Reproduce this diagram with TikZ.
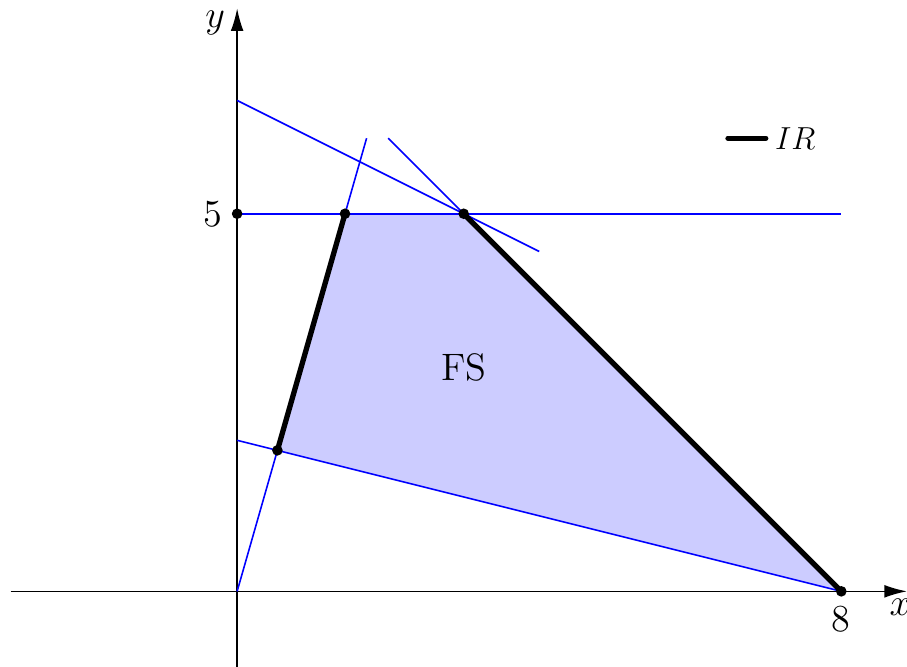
\documentclass[tikz,border=0pt]{standalone}
\definecolor{FSfill}{RGB}{204,204,255}
\usepackage{tikz}
\usetikzlibrary{arrows.meta, positioning, calc}
\usepackage{amsmath, amssymb}
\usepackage{xcolor}

\begin{document}
\begin{tikzpicture}[
    constraint/.style={draw=blue, line width=0.6pt},
    irline/.style={black, line width=2pt, line cap=round},
    vertex/.style={circle, fill=black, inner sep=0pt, minimum size=4pt},
    axis/.style={-{Latex[length=3mm, width=1.7mm]}, line width=0.6pt}]
  \useasboundingbox (-3.14,-0.99) rectangle (8.87,7.83);

  % corners of the feasible set
  \coordinate (O) at (0,0);
  \coordinate (pA) at (8/15,28/15);
  \coordinate (pB) at (10/7,5);
  \coordinate (pC) at (3,5);
  \coordinate (pD) at (8,0);
  \coordinate (p5) at (0,5);

  \fill[FSfill] (pA) -- (pB) -- (pC) -- (pD) -- cycle;

  % axes
  \draw[axis] (-3,0) -- (8.87,0);
  \draw[axis] (0,-1) -- (0,7.72);
  \node[font=\Large, inner sep=1pt] (xlab) at (8.78,-0.21) {$x$};
  \node[font=\Large, inner sep=1pt] (ylab) at (-0.29,7.52) {$y$};

  % constraint lines
  \draw[constraint] (0,2) -- (pD);
  \draw[constraint] (O) -- (12/7,6);
  \draw[constraint] (p5) -- (8,5);
  \draw[constraint] (2,6) -- (pD);
  \draw[constraint] (0,6.5) -- (4,4.5);

  % irredundant part
  \draw[irline] (pA) -- (pB);
  \draw[irline] (pC) -- (pD);

  \node[vertex] (vA) at (pA) {};
  \node[vertex] (vB) at (pB) {};
  \node[vertex] (vC) at (pC) {};
  \node[vertex, label=below:{\Large 8}] (vD) at (pD) {};
  \node[vertex, label=left:{\Large 5}] (v5) at (p5) {};

  \node[font=\Large] (fs) at (3,2.97) {FS};

  % legend
  \coordinate (legA) at (6.5,6);
  \coordinate (legB) at (7,6);
  \draw[irline] (legA) -- (legB);
  \node[right=0pt of legB, font=\large] (legir) {$IR$};
\end{tikzpicture}
\end{document}
